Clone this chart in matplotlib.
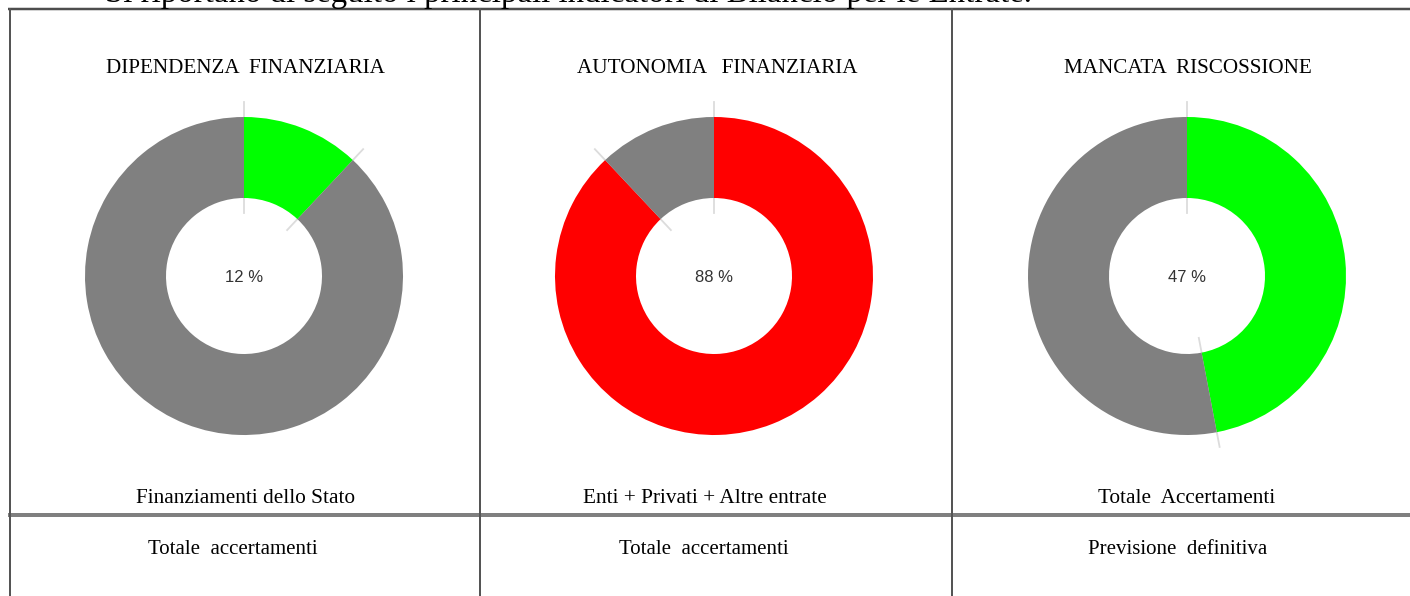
import matplotlib.pyplot as plt
import numpy as np

W, H = 1410, 596

titles = ["DIPENDENZA  FINANZIARIA", "AUTONOMIA   FINANZIARIA", "MANCATA  RISCOSSIONE"]
numerators = ["Finanziamenti dello Stato", "Enti + Privati + Altre entrate", "Totale  Accertamenti"]
denominators = ["Totale  accertamenti", "Totale  accertamenti", "Previsione  definitiva"]
percent = [12, 88, 47]
main_colors = ["#00ff00", "#ff0000", "#00ff00"]
rest_color = "#808080"

donut_x = [244, 714, 1187]      # centre of each donut, px
title_x = [245, 717, 1188]
num_x = [245, 705, 1187]
den_x = [233, 704, 1178]

SERIF = ["Liberation Serif", "DejaVu Serif"]
SANS = ["Liberation Sans", "DejaVu Sans"]

fig = plt.figure(figsize=(W / 100, H / 100), dpi=100)


def fx(x):
    return x / W


def fy(y):
    return 1 - y / H


def hline(y, x0, x1, lw, color):
    fig.add_artist(plt.Line2D([fx(x0), fx(x1)], [fy(y), fy(y)], transform=fig.transFigure,
                              lw=lw * 0.72, color=color, solid_capstyle="butt"))


def vline(x, y0, y1, lw, color):
    fig.add_artist(plt.Line2D([fx(x), fx(x)], [fy(y0), fy(y1)], transform=fig.transFigure,
                              lw=lw * 0.72, color=color, solid_capstyle="butt"))


# sentence above the table (cut by the top edge, as in the page crop)
fig.text(fx(105), fy(2), "Si riportano di seguito i principali indicatori di Bilancio per le Entrate.",
         family=SERIF, fontsize=23.7, va="baseline", ha="left", color="black")

# table lines
hline(9, 8, W, 2.5, "#4d4d4d")
hline(515, 8, W, 4, "#7f7f7f")
for x in [9.5, 480, 952]:
    vline(x, 8, H, 2, "#555555")

R = 159          # outer radius, px
R_IN = 78        # inner radius, px
LIM = 1.2
side = 2 * LIM * R

for i in range(3):
    cx, cy = donut_x[i], 276
    ax = fig.add_axes([fx(cx - side / 2), fy(cy + side / 2), side / W, side / H])

    vals = [percent[i], 100 - percent[i]]
    wedges, _ = ax.pie(vals, colors=[main_colors[i], rest_color], startangle=90, counterclock=False,
                       radius=1, wedgeprops=dict(width=1 - R_IN / R, linewidth=0),
                       frame=True)
    ax.set_xlim(-LIM, LIM)
    ax.set_ylim(-LIM, LIM)
    ax.set_aspect("equal")
    ax.axis("off")
    for w in wedges:
        w.set_zorder(3)

    # light separator ticks at segment boundaries
    for frac in [0, percent[i] / 100]:
        ang = np.pi / 2 - 2 * np.pi * frac
        r0, r1 = 63 / R, 174 / R
        ax.plot([r0 * np.cos(ang), r1 * np.cos(ang)], [r0 * np.sin(ang), r1 * np.sin(ang)],
                color="#dcdcdc", lw=1.3, zorder=1)

    ax.text(0, 0.0, f"{percent[i]} %", ha="center", va="center_baseline", family=SANS,
            fontsize=12, color="#333333")

    fig.text(fx(title_x[i]), fy(73), titles[i], family=SERIF, fontsize=15.2,
             ha="center", va="baseline")
    fig.text(fx(num_x[i]), fy(503), numerators[i], family=SERIF, fontsize=15.3,
             ha="center", va="baseline")
    fig.text(fx(den_x[i]), fy(554), denominators[i], family=SERIF, fontsize=15,
             ha="center", va="baseline")

fig.savefig("out.png", dpi=100, facecolor="white")
